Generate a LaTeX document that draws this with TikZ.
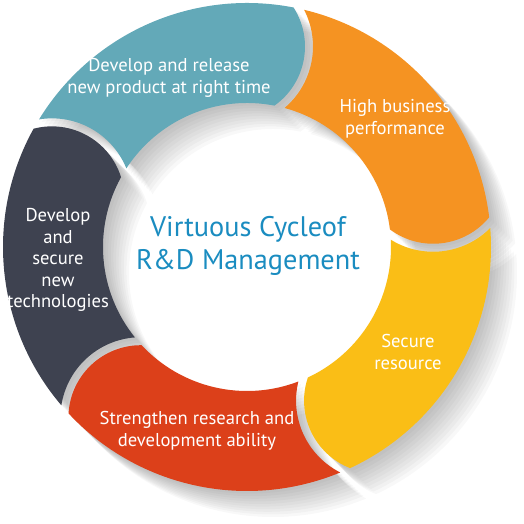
\documentclass[tikz,border=0pt]{standalone}
\usepackage{fontspec}
\setmainfont{PT Sans}
\usepackage{tikz}

\definecolor{tealc}{RGB}{99,169,184}
\definecolor{orangec}{RGB}{245,147,34}
\definecolor{yellowc}{RGB}{250,190,22}
\definecolor{redc}{RGB}{220,64,26}
\definecolor{darkc}{RGB}{62,66,80}
\definecolor{bluec}{RGB}{26,140,192}

\tikzset{
  ringpart/.style={insert path={(#1-2.54:244) arc[start angle=#1-2.54, end angle=#1-72, radius=244]
    arc[start angle=#1-118.4, end angle=#1-205.6, radius=72.5]
    arc[start angle=#1-72, end angle=#1-4.1, radius=144]
    arc[start angle=#1-128.73, end angle=#1-51.83, radius=80.5] -- cycle}},
  seglabel/.style={text=white, align=center, font=\fontsize{18.6}{21.6}\selectfont},
}

\begin{document}
\begin{tikzpicture}[x=1pt, y=1pt]
    \useasboundingbox (0,0) rectangle (524,524);

    \begin{scope}[shift={(247,277)}]
        % soft shadow under the ring
        \foreach \a in {151,79,7,-65,-137} {
            \foreach \k in {1,...,10}
                \fill[black, opacity=0.028, xshift=\k*2.6, yshift=-\k*2.6, ringpart=\a];
        }
        % the five parts of the cycle
        \fill[tealc, ringpart=151];
        \fill[orangec, ringpart=79];
        \fill[yellowc, ringpart=7];
        \fill[redc, ringpart=-65];
        \fill[darkc, ringpart=-137];
    \end{scope}

    \node (title) at (248,278) [text=bluec, align=center, font=\fontsize{28.3}{33}\selectfont] {Virtuous Cycleof\\R\&D Management};

    \node (release) at (169,446) [seglabel] {Develop and release\\new product at right time};
    \node (business) at (395,405) [seglabel] {High business\\performance};
    \node (resource) at (408,172) [seglabel] {Secure\\resource};
    \node (strengthen) at (197,93) [seglabel] {Strengthen research and\\development ability};
    \node (technologies) at (58,264) [seglabel] {Develop\\and\\secure\\new\\technologies};
\end{tikzpicture}
\end{document}
